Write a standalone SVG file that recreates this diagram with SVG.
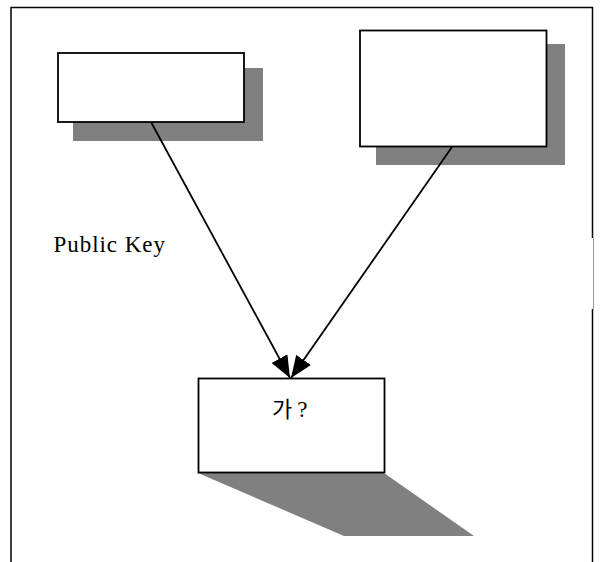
<svg xmlns="http://www.w3.org/2000/svg" width="600" height="562" viewBox="0 0 600 562">
<style>
.frame{stroke:#000;stroke-width:1.5;fill:none}
.box{fill:#fff;stroke:#000;stroke-width:1.8}
.shadow{fill:#808080;stroke:none}
.conn{stroke:#000;stroke-width:1.8;fill:none}
.lbl{font-family:"Liberation Serif","Noto Sans CJK KR",serif;fill:#000}
</style>
<defs>
<marker id="ah" markerUnits="userSpaceOnUse" markerWidth="22" markerHeight="18" viewBox="0 0 22 18" refX="22" refY="9" orient="auto">
<path d="M0,0 L22,9 L0,18 Z" fill="#000"/>
</marker>
</defs>
<rect width="600" height="562" fill="#fff"/>
<g id="frame">
<path class="frame" d="M11,562 V7.5 H592.5 V238"/>
<path class="frame" d="M592.5,309 V562"/>
<path d="M593.5,238 V309" stroke="#999" stroke-width="1" fill="none"/>
</g>
<g id="node1">
<rect class="shadow" x="73" y="68" width="190" height="73"/>
<rect class="box" x="58" y="53" width="186" height="69"/>
</g>
<g id="node2">
<rect class="shadow" x="376" y="44" width="189" height="121"/>
<rect class="box" x="360" y="30.5" width="186.5" height="116"/>
</g>
<g id="node3">
<polygon class="shadow" points="198,473 384,473 474,536 344,536"/>
<rect class="box" x="198.5" y="378.5" width="186" height="94"/>
<text class="lbl" x="272" y="417" font-size="22">가<tspan dx="5" font-size="23">?</tspan></text>
</g>
<g id="label">
<text class="lbl" x="53.5" y="252" font-size="23" textLength="111.5" lengthAdjust="spacing">Public Key</text>
</g>
<g id="connectors">
<line class="conn" x1="151" y1="122" x2="290" y2="378" marker-end="url(#ah)"/>
<line class="conn" x1="452" y1="147" x2="291" y2="378" marker-end="url(#ah)"/>
</g>
</svg>
